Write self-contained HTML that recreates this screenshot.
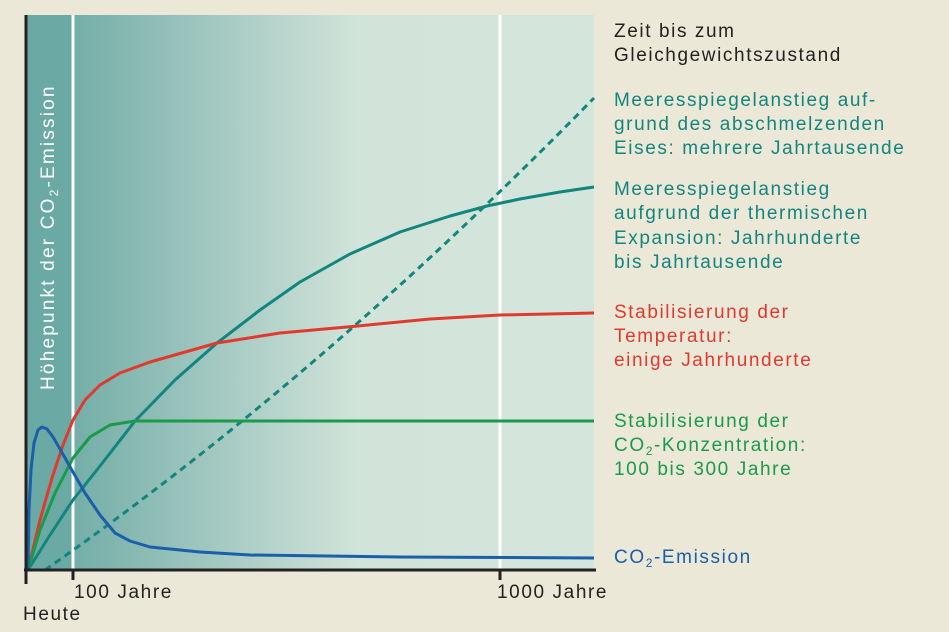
<!DOCTYPE html>
<html><head><meta charset="utf-8"><style>
body{margin:0;background:#ece8d8;}
svg{display:block;font-family:"Liberation Sans",sans-serif;}
</style></head><body>
<svg width="949" height="632" viewBox="0 0 949 632">
<defs><linearGradient id="g" x1="0" x2="1" y1="0" y2="0">
<stop offset="0" stop-color="#74aea8"/><stop offset="0.55" stop-color="#d2e4da"/><stop offset="1" stop-color="#d4e6dc"/></linearGradient></defs>
<rect x="0" y="0" width="949" height="632" fill="#ece8d8"/>
<rect x="74" y="15" width="520" height="555" fill="url(#g)"/>
<rect x="26" y="15" width="46" height="555" fill="#6aa9a4"/>
<line x1="73" y1="15" x2="73" y2="570" stroke="#fff" stroke-width="3"/>
<line x1="500" y1="15" x2="500" y2="570" stroke="#fff" stroke-width="3"/>
<text transform="translate(54,390) rotate(-90)" fill="#fff" font-size="19" letter-spacing="2.2">Höhepunkt der CO<tspan font-size="12" dy="4">2</tspan><tspan dy="-4">-Emission</tspan></text>
<g fill="none" stroke-width="3" stroke-linejoin="round">
<path d="M45,570 Q320,378 594,98" stroke="#13857f" stroke-dasharray="7,5"/>
<polyline points="28,570 50,535 73,500 100,466 135,421 175,380 217,343 260,310 300,282 350,254 400,232 450,216 487,206 520,199 560,192 594,187" stroke="#13857f"/>
<polyline points="28,570 40,520 52,478 63,445 73,420 85,400 100,385 120,373 150,362 217,343 280,333 358,326 430,319 500,315 594,313" stroke="#e03a2e"/>
<polyline points="28,570 40,530 55,493 73,458 90,437 110,425 135,421 594,421" stroke="#1a9a4a"/>
<polyline points="28,570 29,510 31,470 34,443 38,430 42,427 47,429 53,437 60,449 73,472 85,493 100,515 115,533 130,541 150,547 200,552 250,555 400,557 594,558" stroke="#1a5fa8"/>
</g>
<line x1="24" y1="570" x2="596" y2="570" stroke="#222" stroke-width="3"/>
<line x1="26" y1="15" x2="26" y2="584" stroke="#222" stroke-width="3"/>
<line x1="73" y1="570" x2="73" y2="580" stroke="#222" stroke-width="3"/>
<line x1="500" y1="570" x2="500" y2="580" stroke="#222" stroke-width="3"/>
<g font-size="19" fill="#222" letter-spacing="1.6">
<text x="74" y="598">100 Jahre</text>
<text x="497" y="598">1000 Jahre</text>
<text x="23" y="620">Heute</text>
<text x="614" y="37">Zeit bis zum</text>
<text x="614" y="61">Gleichgewichtszustand</text>
</g>
<g font-size="19" letter-spacing="1.6">
<g fill="#13857f"><text x="614" y="106">Meeresspiegelanstieg auf-</text><text x="614" y="130">grund des abschmelzenden</text><text x="614" y="154">Eises: mehrere Jahrtausende</text>
<text x="614" y="195">Meeresspiegelanstieg</text><text x="614" y="219">aufgrund der thermischen</text><text x="614" y="244">Expansion: Jahrhunderte</text><text x="614" y="268">bis Jahrtausende</text></g>
<g fill="#e03a2e"><text x="614" y="318">Stabilisierung der</text><text x="614" y="342">Temperatur:</text><text x="614" y="366">einige Jahrhunderte</text></g>
<g fill="#1a9a4a"><text x="614" y="427">Stabilisierung der</text><text x="614" y="451">CO<tspan font-size="12" dy="4">2</tspan><tspan dy="-4">-Konzentration:</tspan></text><text x="614" y="475">100 bis 300 Jahre</text></g>
<text x="614" y="563" fill="#1a5fa8">CO<tspan font-size="12" dy="4">2</tspan><tspan dy="-4">-Emission</tspan></text>
</g>
</svg>
</body></html>
